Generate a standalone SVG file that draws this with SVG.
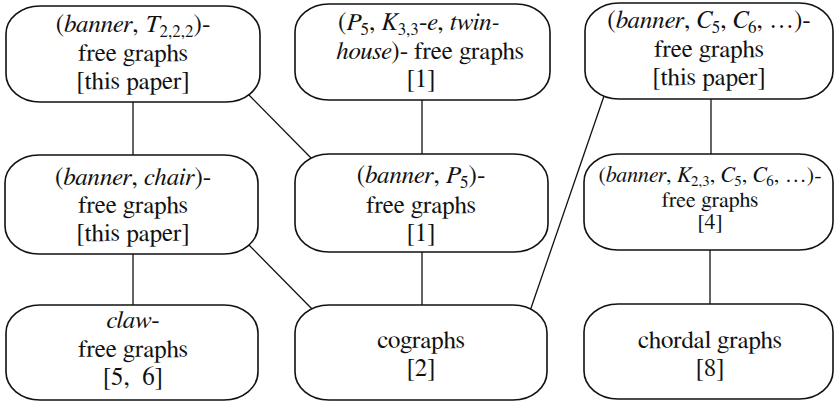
<svg xmlns="http://www.w3.org/2000/svg" width="835" height="402" viewBox="0 0 835 402">
<style>
.box{fill:#fff;stroke:#111;stroke-width:1.6}
.edge{stroke:#111;stroke-width:1.3;fill:none}
.t{font-family:FreeSerif,"Liberation Serif",serif;font-size:25px;fill:#111;text-anchor:middle}
.sm{font-size:22px}
.i{font-style:italic}
.s{font-size:17px}
.sm .s{font-size:15px}
</style>
<rect width="835" height="402" fill="#fff"/>
<g id="connectors">
<line class="edge" x1="133" y1="102" x2="133" y2="156"/>
<line class="edge" x1="246" y1="92" x2="314" y2="161"/>
<line class="edge" x1="422" y1="100" x2="422" y2="155"/>
<line class="edge" x1="604" y1="96" x2="530" y2="311"/>
<line class="edge" x1="711" y1="99" x2="711" y2="154"/>
<line class="edge" x1="133" y1="254" x2="133" y2="306"/>
<line class="edge" x1="246" y1="242" x2="314" y2="311"/>
<line class="edge" x1="422" y1="252" x2="422" y2="306"/>
<line class="edge" x1="710" y1="250" x2="710" y2="305"/>
</g>
<g id="n-banner-t222">
<rect class="box" x="6" y="6" width="254" height="96" rx="34" ry="28"/>
<text class="t" x="133" y="32">(<tspan class="i">banner</tspan>, <tspan class="i">T</tspan><tspan class="s" dy="5">2,2,2</tspan><tspan dy="-5">)-</tspan></text>
<text class="t" x="133" y="61">free graphs</text>
<text class="t" x="133" y="89">[this paper]</text>
</g>
<g id="n-p5-k33e-twinhouse">
<rect class="box" x="295" y="4" width="255" height="96" rx="34" ry="28"/>
<text class="t" x="419" y="30">(<tspan class="i">P</tspan><tspan class="s" dy="5">5</tspan><tspan dy="-5">, </tspan><tspan class="i">K</tspan><tspan class="s" dy="5">3,3</tspan><tspan dy="-5">-</tspan><tspan class="i">e</tspan>, <tspan class="i">twin-</tspan></text>
<text class="t" x="430" y="59"><tspan class="i">house</tspan>)- free graphs</text>
<text class="t" x="421" y="87">[1]</text>
</g>
<g id="n-banner-c5c6">
<rect class="box" x="585" y="3" width="248" height="96" rx="34" ry="28"/>
<text class="t" x="709" y="28">(<tspan class="i">banner</tspan>, <tspan class="i">C</tspan><tspan class="s" dy="5">5</tspan><tspan dy="-5">, </tspan><tspan class="i">C</tspan><tspan class="s" dy="5">6</tspan><tspan dy="-5">, …)-</tspan></text>
<text class="t" x="709" y="57">free graphs</text>
<text class="t" x="709" y="85">[this paper]</text>
</g>
<g id="n-banner-chair">
<rect class="box" x="5" y="155" width="253" height="99" rx="34" ry="28"/>
<text class="t" x="133" y="185">(<tspan class="i">banner</tspan>, <tspan class="i">chair</tspan>)-</text>
<text class="t" x="133" y="213">free graphs</text>
<text class="t" x="133" y="241">[this paper]</text>
</g>
<g id="n-banner-p5">
<rect class="box" x="295" y="154" width="253" height="98" rx="34" ry="28"/>
<text class="t" x="421" y="183">(<tspan class="i">banner</tspan>, <tspan class="i">P</tspan><tspan class="s" dy="5">5</tspan><tspan dy="-5">)-</tspan></text>
<text class="t" x="421" y="213">free graphs</text>
<text class="t" x="421" y="241">[1]</text>
</g>
<g id="n-banner-k23-c5c6">
<rect class="box" x="584" y="154" width="249" height="96" rx="34" ry="28"/>
<text class="t sm" x="710" y="182">(<tspan class="i">banner</tspan>, <tspan class="i">K</tspan><tspan class="s" dy="4">2,3</tspan><tspan dy="-4">, </tspan><tspan class="i">C</tspan><tspan class="s" dy="4">5</tspan><tspan dy="-4">, </tspan><tspan class="i">C</tspan><tspan class="s" dy="4">6</tspan><tspan dy="-4">, …)-</tspan></text>
<text class="t sm" x="710" y="207">free graphs</text>
<text class="t sm" x="710" y="229">[4]</text>
</g>
<g id="n-claw">
<rect class="box" x="6" y="305" width="252" height="95" rx="34" ry="28"/>
<text class="t" x="133" y="328"><tspan class="i">claw</tspan>-</text>
<text class="t" x="133" y="357">free graphs</text>
<text class="t" x="133" y="385" xml:space="preserve">[5,  6]</text>
</g>
<g id="n-cographs">
<rect class="box" x="295" y="305" width="252" height="95" rx="34" ry="28"/>
<text class="t" x="421" y="348">cographs</text>
<text class="t" x="421" y="376">[2]</text>
</g>
<g id="n-chordal">
<rect class="box" x="584" y="304" width="249" height="95" rx="34" ry="28"/>
<text class="t" x="710" y="348">chordal graphs</text>
<text class="t" x="710" y="376">[8]</text>
</g>
</svg>
